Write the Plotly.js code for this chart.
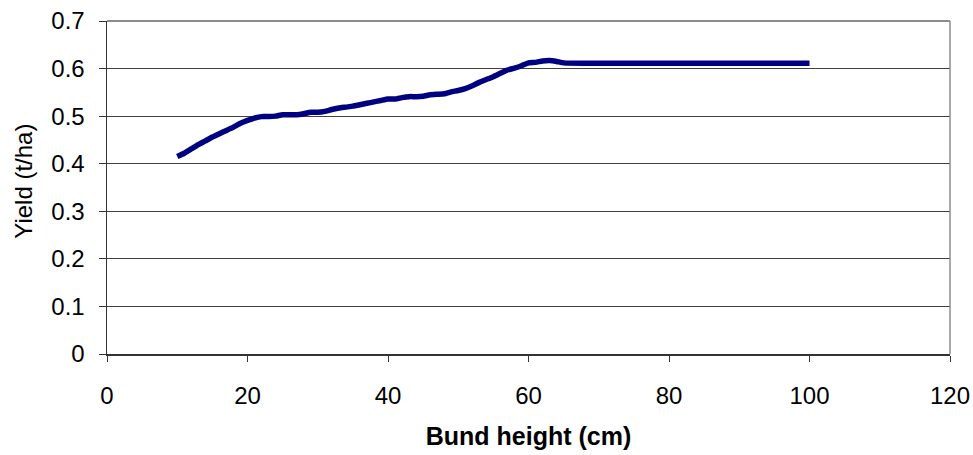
<!DOCTYPE html>
<html>
<head>
<meta charset="utf-8">
<script src="https://cdn.plot.ly/plotly-3.0.1.min.js"></script>
<style>html,body{margin:0;padding:0;background:#fff;}#chart{width:973px;height:455px;}</style>
</head>
<body>
<div id="chart"></div>
<script>
const bundHeight = [10,11,12,13,14,15,16,17,18,19,20,21,22,23,24,25,26,27,28,29,30,31,32,33,34,35,36,37,38,39,40,41,42,43,44,45,46,47,48,49,50,51,52,53,54,55,56,57,58,59,60,61,62,63,64,65,70,75,80,85,90,95,100];
const yieldVals = [0.415,0.422,0.431,0.440,0.448,0.456,0.463,0.470,0.477,0.485,0.491,0.496,0.499,0.499,0.500,0.503,0.503,0.503,0.505,0.508,0.508,0.510,0.514,0.517,0.519,0.521,0.524,0.527,0.530,0.533,0.536,0.536,0.539,0.541,0.541,0.542,0.545,0.546,0.547,0.551,0.554,0.558,0.564,0.571,0.577,0.583,0.590,0.597,0.601,0.606,0.612,0.613,0.616,0.617,0.615,0.612,0.611,0.611,0.611,0.611,0.611,0.611,0.611];
const xTicks = [0,20,40,60,80,100,120];
const yTicks = [0,0.1,0.2,0.3,0.4,0.5,0.6,0.7];
const yTickText = ['0','0.1','0.2','0.3','0.4','0.5','0.6','0.7'];
const xTitle = 'Bund height (cm)';
const yTitle = 'Yield (t/ha)';

const font = 'Arial, "Liberation Sans", sans-serif';
const trace = {
  x: bundHeight, y: yieldVals, type: 'scatter', mode: 'lines',
  line: {color: '#000080', width: 5.5, shape: 'spline', smoothing: 0.4},
  hoverinfo: 'skip'
};
const layout = {
  width: 973, height: 455,
  margin: {l: 107, r: 23, t: 21, b: 101},
  paper_bgcolor: '#fff', plot_bgcolor: '#fff',
  showlegend: false,
  font: {family: font, color: '#000', size: 24},
  xaxis: {
    range: [0, 120], tickvals: xTicks, ticktext: xTicks.map(String),
    showgrid: false, zeroline: false,
    showline: true, linecolor: '#333', linewidth: 1.5,
    ticks: 'outside', ticklen: 6, tickcolor: '#333', tickwidth: 1,
    ticklabelstandoff: 14,
    tickfont: {family: font, size: 24, color: '#000'},
    title: {text: '<b>' + xTitle + '</b>', font: {family: font, size: 25, color: '#000'}, standoff: 19}
  },
  yaxis: {
    range: [0, 0.7], tickvals: yTicks, ticktext: yTickText,
    showgrid: true, gridcolor: '#404040', gridwidth: 1, zeroline: false,
    showline: true, linecolor: '#333', linewidth: 1.5,
    ticks: 'outside', ticklen: 7, tickcolor: '#333', tickwidth: 1,
    ticklabelstandoff: 9,
    tickfont: {family: font, size: 24, color: '#000'}
  },
  annotations: [
    {text: yTitle, xref: 'paper', yref: 'paper', x: -0.1, y: 0.5195,
     xanchor: 'center', yanchor: 'middle', textangle: -90, showarrow: false,
     font: {family: font, size: 24, color: '#000'}}
  ],
  shapes: [
    {type: 'line', xref: 'paper', yref: 'paper', x0: 0, x1: 1, y0: 1, y1: 1, line: {color: '#8c8c8c', width: 2}, layer: 'above'},
    {type: 'line', xref: 'paper', yref: 'paper', x0: 1, x1: 1, y0: 0, y1: 1, line: {color: '#8c8c8c', width: 1.5}, layer: 'above'}
  ]
};
Plotly.newPlot('chart', [trace], layout, {displayModeBar: false, staticPlot: true});
</script>
</body>
</html>
